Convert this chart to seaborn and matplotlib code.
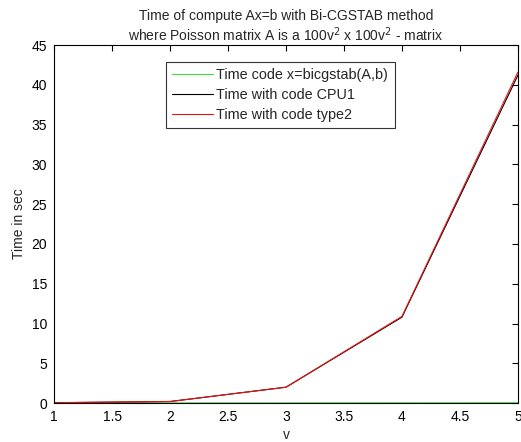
import matplotlib
matplotlib.use("Agg")
import matplotlib.pyplot as plt
import seaborn as sns
import pandas as pd

v = [1, 2, 3, 4, 5]
t_bicgstab = [0.02, 0.03, 0.03, 0.04, 0.05]
t_cpu1 = [0.05, 0.2, 2.0, 10.8, 41.2]
t_type2 = [0.05, 0.2, 2.0, 10.9, 41.6]

series_names = ["Time code x=bicgstab(A,b)", "Time with code CPU1", "Time with code type2"]
series_colors = ["#3ddd3d", "#000000", "#ee1111"]

df = pd.concat([
    pd.DataFrame({"v": v, "t": t_bicgstab, "series": series_names[0]}),
    pd.DataFrame({"v": v, "t": t_cpu1, "series": series_names[1]}),
    pd.DataFrame({"v": v, "t": t_type2, "series": series_names[2]}),
])

sns.set_style("white")
plt.rcParams["font.family"] = ["Liberation Sans", "DejaVu Sans"]
plt.rcParams["font.size"] = 10

fig = plt.figure(figsize=(5.21, 4.42), dpi=100)
ax = fig.add_axes([0.104, 0.088, 0.890, 0.810])

sns.lineplot(data=df, x="v", y="t", hue="series", palette=dict(zip(series_names, series_colors)),
             linewidth=0.8, ax=ax, estimator=None, sort=False)

ax.set_xlim(1, 5)
ax.set_ylim(0, 45)
ax.set_xticks([1, 1.5, 2, 2.5, 3, 3.5, 4, 4.5, 5])
ax.set_xticklabels(["1", "1.5", "2", "2.5", "3", "3.5", "4", "4.5", "5"])
ax.set_yticks(range(0, 46, 5))
ax.tick_params(direction="in", length=4, width=0.8, top=True, right=True, labelsize=10, pad=5,
               colors="black")
for s in ax.spines.values():
    s.set_color("black")
    s.set_linewidth(0.8)

ax.set_xlabel("v", fontsize=10, labelpad=3)
ax.set_ylabel("Time in sec", fontsize=10, labelpad=4)
ax.set_title("Time of compute Ax=b with Bi-CGSTAB method\n"
             r"where Poisson matrix A is a 100v$^2$ x 100v$^2$ - matrix",
             fontsize=10, linespacing=1.15, pad=3)

leg = ax.legend(loc="upper left", bbox_to_anchor=(0.241, 0.953), frameon=True, fancybox=False,
                edgecolor="black", fontsize=10.4, handlelength=2.8, handletextpad=0.25,
                borderpad=0.45, labelspacing=0.4, borderaxespad=0)
leg.get_frame().set_linewidth(0.8)
for line in leg.get_lines():
    line.set_linewidth(0.8)

fig.savefig("out.png", dpi=100, facecolor="white")
